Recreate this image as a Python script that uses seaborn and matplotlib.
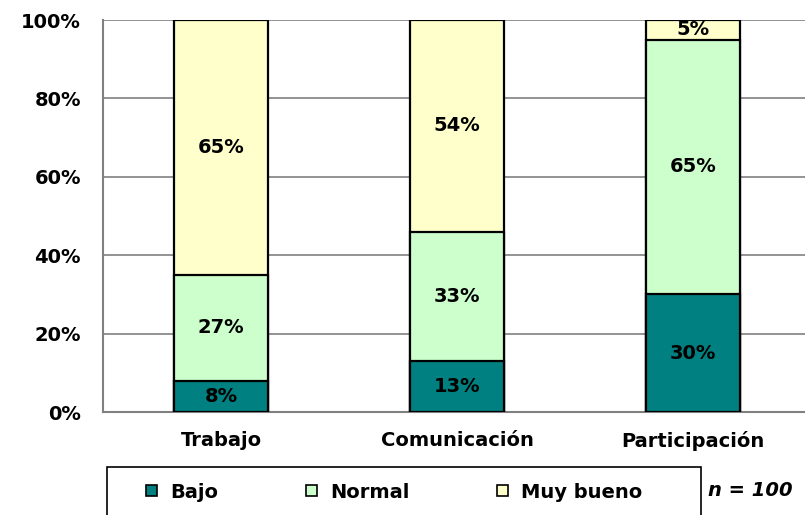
import matplotlib
matplotlib.use("Agg")
import matplotlib.pyplot as plt
from matplotlib.patches import Patch, Rectangle
import seaborn as sns
import pandas as pd

# datos (porcentajes)
categories = ["Trabajo", "Comunicación", "Participación"]
bajo = [8, 13, 30]
normal = [27, 33, 65]
muy_bueno = [65, 54, 5]
series_names = ["Bajo", "Normal", "Muy bueno"]
y_ticks = [0, 20, 40, 60, 80, 100]
n_text = "n = 100"

colors = ["#008080", "#CCFFCC", "#FFFFCC"]

df = pd.DataFrame({"categoria": categories, "Bajo": bajo, "Normal": normal, "Muy bueno": muy_bueno})
df["c1"] = df["Bajo"]
df["c2"] = df["Bajo"] + df["Normal"]
df["c3"] = df["c2"] + df["Muy bueno"]

sns.set_style("white")
plt.rcParams["font.family"] = ["DejaVu Sans"]
plt.rcParams["font.weight"] = "bold"
plt.rcParams["text.color"] = "black"
plt.rcParams["xtick.color"] = "black"
plt.rcParams["ytick.color"] = "black"

fig = plt.figure(figsize=(8.05, 5.15), dpi=100)
ax = fig.add_axes([103 / 805, 1 - 412 / 515, 708 / 805, 392 / 515])

# barras apiladas: se dibujan los acumulados de mayor a menor
for col, color in zip(["c3", "c2", "c1"], colors[::-1]):
    sns.barplot(data=df, x="categoria", y=col, color=color, edgecolor="black",
                linewidth=1.6, width=0.4, errorbar=None, saturation=1, ax=ax, zorder=3)

# etiquetas de datos
for i in range(len(categories)):
    base = 0
    for name in series_names:
        v = df[name][i]
        ax.text(i, base + v / 2, f"{v}%", ha="center", va="center",
                fontsize=14, fontweight="bold", color="black", zorder=5)
        base += v

ax.set_ylim(0, 100)
ax.set_xlim(-0.5, 2.5)
ax.set_yticks(y_ticks)
ax.set_yticklabels([f"{t}%" for t in y_ticks], fontsize=14, fontweight="bold")
ax.set_xticks(range(len(categories)))
ax.set_xticklabels(categories, fontsize=14, fontweight="bold")
ax.tick_params(axis="x", length=0, pad=14)
ax.set_xticks([0.5, 1.5], minor=True)
ax.tick_params(axis="x", which="minor", length=7, color="black", direction="out")
ax.tick_params(axis="y", length=8, color="black", direction="out", pad=8)
ax.set_xlabel("")
ax.set_ylabel("")
ax.grid(axis="y", color="#808080", linewidth=1.2, zorder=0)
ax.set_axisbelow(True)
for s in ["top", "right"]:
    ax.spines[s].set_visible(False)
ax.spines["left"].set_color("#808080")
ax.spines["left"].set_linewidth(1.5)
ax.spines["bottom"].set_color("#808080")
ax.spines["bottom"].set_linewidth(1.5)

# leyenda con marco propio
fig.patches.append(Rectangle((107 / 805, -0.05), 594 / 805, 0.05 + 1 - 467 / 515,
                             transform=fig.transFigure, facecolor="white",
                             edgecolor="black", linewidth=1.2, zorder=1))
handles = [Patch(facecolor=c, edgecolor="black", linewidth=1.2) for c in colors]
leg = fig.legend(handles, series_names, ncol=3, loc="center left",
                 bbox_to_anchor=(146 / 805, 1 - 492 / 515), frameon=False,
                 fontsize=14, handlelength=0.55, handleheight=0.55, handletextpad=0.7,
                 columnspacing=4.5, borderpad=0, borderaxespad=0)
for t in leg.get_texts():
    t.set_fontweight("bold")

fig.text(708 / 805, 1 - 490 / 515, n_text, fontsize=14, fontweight="bold",
         fontstyle="italic", va="center", ha="left")

fig.savefig("out.png", dpi=100)
